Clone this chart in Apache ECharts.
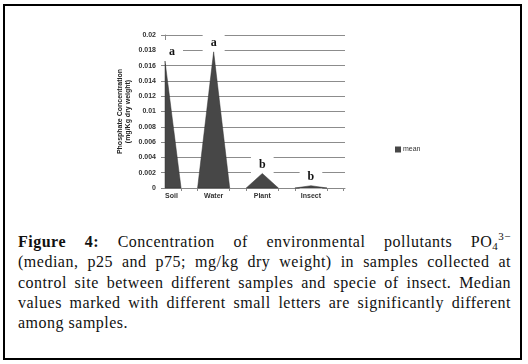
<!DOCTYPE html>
<html>
<head>
<meta charset="utf-8">
<script src="https://cdn.jsdelivr.net/npm/echarts@6/dist/echarts.min.js"></script>
<style>
	body { margin: 0; background: #fff; }
	#frame { position: absolute; left: 3px; top: 4px; width: 515px; height: 352px; border: 2px solid #000; }
	#chart { position: absolute; left: 0; top: 0; width: 528px; height: 215px; }
	#caption { position: absolute; left: 18px; top: 232px; width: 493px; font-family: "Liberation Serif", serif; font-size: 16px; letter-spacing: 0.5px; line-height: 20.3px; color: #111; }
	#caption div { text-align: justify; text-align-last: justify; white-space: nowrap; }
	#caption div.last { text-align: left; text-align-last: left; }
	#caption sub, #caption sup { font-size: 11px; line-height: 0; position: relative; vertical-align: baseline; }
	#caption sub { top: 3px; }
	#caption sup { top: -7px; }
</style>
</head>
<body>
<div id="frame"></div>
<div id="chart"></div>
<div id="caption">
	<div><b>Figure 4:</b> Concentration of environmental pollutants PO<sub>4</sub><sup>3&minus;</sup></div>
	<div>(median, p25 and p75; mg/kg dry weight) in samples collected at</div>
	<div>control site between different samples and specie of insect. Median</div>
	<div>values marked with different small letters are significantly different</div>
	<div class="last">among samples.</div>
</div>
<script>
var categories = ['Soil', 'Water', 'Plant', 'Insect'];
var meanValues = [0.0166, 0.0178, 0.0019, 0.0003];
var letters = ['a', 'a', 'b', 'b'];

var coneColor = '#474747';
var halfWidth = 0.33;

var seriesData = [];
var tickValues = [];
var labelValues = [];
for (var i = 0; i < categories.length; ++i) {
	seriesData.push([i, meanValues[i]]);
	labelValues.push(i);
	if (i > 0) {
		tickValues.push(i - halfWidth);
	}
	tickValues.push(i + halfWidth);
}
tickValues.push(categories.length - halfWidth);

var myChart = echarts.init(document.getElementById('chart'));

var renderCone = function(params, api) {
	var x = api.value(0);
	var v = api.value(1);
	var cs = params.coordSys;
	var top = api.coord([x, v]);
	var left = api.coord([x - halfWidth, 0]);
	var right = api.coord([x + halfWidth, 0]);
	var points = [left, top, right];
	// cut the part that falls left of the y axis (Soil)
	if (left[0] < cs.x) {
		var t = (cs.x - left[0]) / (top[0] - left[0]);
		var yCut = left[1] + t * (top[1] - left[1]);
		points = [[cs.x, left[1]], [cs.x, yCut], top, right];
	}
	var labelX = Math.max(top[0], cs.x + 7);
	return {
		type: 'group',
		children: [{
			type: 'text',
			z2: 1,
			style: {
				text: letters[params.dataIndex],
				x: labelX,
				y: top[1] - 9,
				align: 'center',
				verticalAlign: 'middle',
				font: 'bold 12px "Liberation Serif"',
				fill: '#111',
				backgroundColor: '#fff',
				padding: [6, 8]
			}
		}, {
			type: 'polygon',
			z2: 2,
			shape: { points: points },
			style: { fill: coneColor, stroke: '#333', lineWidth: 0.5 }
		}]
	};
};

var option = {
	animation: false,
	grid: { left: 165, top: 35, width: 180, height: 153 },
	legend: {
		data: ['mean'],
		left: 390,
		top: 141,
		icon: 'rect',
		itemWidth: 6,
		itemHeight: 6,
		itemGap: 2,
		textStyle: { fontSize: 7, color: '#333', fontFamily: 'Liberation Sans', padding: [0, 0, 0, -3] }
	},
	xAxis: {
		type: 'value',
		min: 0,
		max: 3.7,
		axisLine: { show: true, lineStyle: { color: '#888' } },
		axisTick: { show: true, customValues: tickValues, length: 3, lineStyle: { color: '#888' } },
		axisLabel: {
			customValues: labelValues,
			formatter: function(v) {
				return categories[Math.round(v)];
			},
			alignMinLabel: 'left',
			fontSize: 7,
			fontWeight: 'bold',
			fontFamily: 'Liberation Sans',
			color: '#333',
			margin: 5
		},
		splitLine: { show: false }
	},
	yAxis: {
		type: 'value',
		min: 0,
		max: 0.02,
		interval: 0.002,
		name: 'Phosphate Concentration\n(mg/Kg dry weight)',
		nameLocation: 'middle',
		nameGap: 33,
		nameRotate: 90,
		nameTextStyle: { fontSize: 7, fontWeight: 'bold', fontFamily: 'Liberation Sans', color: '#222', lineHeight: 8 },
		axisLine: { show: true, lineStyle: { color: '#888' } },
		axisTick: { show: true, length: 4, lineStyle: { color: '#888' } },
		axisLabel: { fontSize: 7, fontWeight: 'bold', fontFamily: 'Liberation Sans', color: '#333', margin: 9 },
		splitLine: { show: true, lineStyle: { color: '#8c8c8c' } }
	},
	series: [{
		name: 'mean',
		type: 'custom',
		clip: false,
		itemStyle: { color: coneColor },
		renderItem: renderCone,
		data: seriesData
	}]
};

myChart.setOption(option);
</script>
</body>
</html>
